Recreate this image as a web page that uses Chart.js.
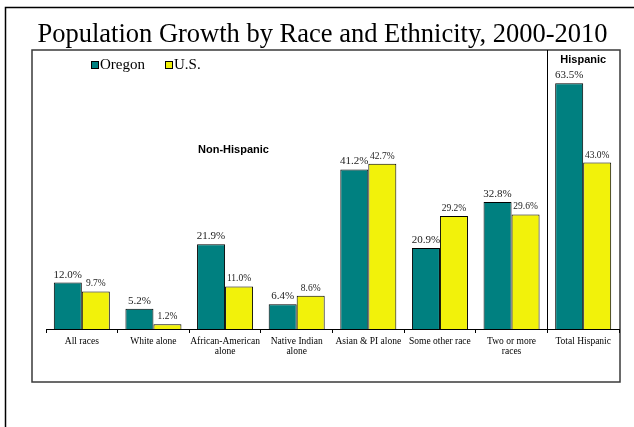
<!DOCTYPE html>
<html>
<head>
<meta charset="utf-8">
<script src="https://cdn.jsdelivr.net/npm/chart.js@4"></script>
<style>
  html, body { margin: 0; padding: 0; background: #fff; }
  #wrap { width: 634px; height: 427px; }
</style>
</head>
<body>
<div id="wrap"><canvas id="c" width="634" height="427"></canvas></div>
<script>
const categories = [
  'All races',
  'White alone',
  ['African-American', 'alone'],
  ['Native Indian', 'alone'],
  'Asian & PI alone',
  'Some other race',
  ['Two or more', 'races'],
  'Total Hispanic'
];
const oregonValues = [12.0, 5.2, 21.9, 6.4, 41.2, 20.9, 32.8, 63.5];
const usValues = [9.7, 1.2, 11.0, 8.6, 42.7, 29.2, 29.6, 43.0];
const seriesNames = ['Oregon', 'U.S.'];
const chartTitle = 'Population Growth by Race and Ethnicity, 2000-2010';
const groupLabels = ['Non-Hispanic', 'Hispanic'];

const TEAL = '#008080';
const YELLOW = '#F2F20A';

const decorPlugin = {
  id: 'decor',
  beforeDraw(chart) {
    const ctx = chart.ctx;
    ctx.save();
    ctx.fillStyle = '#fff';
    ctx.fillRect(0, 0, chart.width, chart.height);
    // outer frame
    ctx.strokeStyle = '#000';
    ctx.lineWidth = 1.5;
    ctx.beginPath();
    ctx.moveTo(5.5, 427);
    ctx.lineTo(5.5, 7.5);
    ctx.lineTo(634, 7.5);
    ctx.stroke();
    // inner box
    ctx.strokeStyle = '#3a3a3a';
    ctx.lineWidth = 1.5;
    ctx.strokeRect(32, 50, 588, 332);
    // title
    ctx.fillStyle = '#000';
    ctx.font = '26.5px "Liberation Serif"';
    ctx.textAlign = 'center';
    ctx.textBaseline = 'alphabetic';
    ctx.fillText(chartTitle, 322.5, 42);
    ctx.restore();
  },
  afterDraw(chart) {
    const ctx = chart.ctx;
    const area = chart.chartArea;
    ctx.save();
    // divider between non-hispanic and hispanic
    const n = categories.length;
    const step = (area.right - area.left) / n;
    const divX = Math.round(area.left + step * (n - 1)) + 0.5;
    ctx.strokeStyle = '#000';
    ctx.lineWidth = 1;
    ctx.beginPath();
    ctx.moveTo(divX, 50);
    ctx.lineTo(divX, area.bottom);
    ctx.stroke();

    // group labels
    ctx.fillStyle = '#000';
    ctx.font = 'bold 11px "Liberation Sans"';
    ctx.textAlign = 'center';
    ctx.textBaseline = 'middle';
    ctx.fillText(groupLabels[0], 233.5, 150);
    ctx.fillText(groupLabels[1], (divX + area.right) / 2, 60);

    // legend
    const legendItems = [
      { x: 91, color: TEAL, name: seriesNames[0] },
      { x: 165, color: YELLOW, name: seriesNames[1] }
    ];
    ctx.font = '15px "Liberation Serif"';
    ctx.textAlign = 'left';
    ctx.textBaseline = 'middle';
    legendItems.forEach(it => {
      ctx.fillStyle = it.color;
      ctx.fillRect(it.x, 61.5, 7, 7);
      ctx.strokeStyle = '#000';
      ctx.lineWidth = 1;
      ctx.strokeRect(it.x + 0.5, 61.5, 7, 7);
      ctx.fillStyle = '#000';
      ctx.fillText(it.name, it.x + 9, 65.5);
    });

    // data labels
    ctx.textAlign = 'center';
    ctx.textBaseline = 'alphabetic';
    chart.data.datasets.forEach((ds, di) => {
      const meta = chart.getDatasetMeta(di);
      ctx.font = di === 0 ? '11px "Liberation Serif"' : '9.5px "Liberation Serif"';
      ctx.fillStyle = '#222';
      meta.data.forEach((bar, i) => {
        const v = ds.data[i];
        ctx.fillText(v.toFixed(1) + '%', bar.x, bar.y - 5);
      });
    });
    ctx.restore();
  }
};

new Chart(document.getElementById('c'), {
  type: 'bar',
  data: {
    labels: categories,
    datasets: [
      {
        label: seriesNames[0],
        data: oregonValues,
        backgroundColor: TEAL,
        borderColor: '#000',
        borderWidth: 1,
        borderSkipped: 'bottom',
        categoryPercentage: 0.782,
        barPercentage: 1.0
      },
      {
        label: seriesNames[1],
        data: usValues,
        backgroundColor: YELLOW,
        borderColor: '#000',
        borderWidth: 1,
        borderSkipped: 'bottom',
        categoryPercentage: 0.782,
        barPercentage: 1.0
      }
    ]
  },
  options: {
    responsive: false,
    animation: false,
    devicePixelRatio: 1,
    layout: { padding: { left: 46, right: 15, top: 58, bottom: 0 } },
    plugins: {
      legend: { display: false },
      title: { display: false },
      tooltip: { enabled: false }
    },
    scales: {
      x: {
        grid: {
          offset: true,
          drawOnChartArea: false,
          drawTicks: true,
          tickLength: 4,
          color: '#000'
        },
        border: { display: true, color: '#000', width: 1 },
        ticks: {
          color: '#000',
          font: { family: '"Liberation Serif"', size: 9.5, lineHeight: 1.12 },
          maxRotation: 0,
          minRotation: 0,
          autoSkip: false,
          padding: 3
        },
        afterFit(scale) { scale.height = 98; }
      },
      y: {
        display: false,
        min: 0,
        max: 70
      }
    }
  },
  plugins: [decorPlugin]
});
</script>
</body>
</html>
